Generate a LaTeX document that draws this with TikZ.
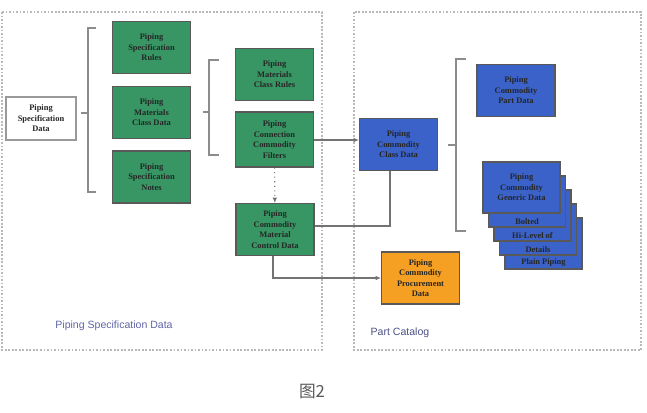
\documentclass[tikz,border=0pt]{standalone}
\usepackage{fontspec}
\setmainfont{Liberation Serif}
\setsansfont{Liberation Sans}
\newfontfamily\cjkfont{Noto Sans CJK SC}
\usetikzlibrary{arrows.meta}

\definecolor{boxgreen}{RGB}{55,150,100}
\definecolor{boxblue}{RGB}{58,98,200}
\definecolor{boxorange}{RGB}{245,160,35}
\definecolor{framegray}{RGB}{185,185,185}
\definecolor{labelblue}{RGB}{95,100,165}

\begin{document}
\begin{tikzpicture}[x=0.02cm, y=-0.02cm,
  box/.style={draw=black!65, line width=0.6pt, minimum width=1.56cm, minimum height=1.04cm,
    inner sep=1pt, align=center, font=\fontsize{4.8}{6}\selectfont\bfseries, text=black!85},
  greenbox/.style={box, fill=boxgreen},
  bluebox/.style={box, fill=boxblue},
  card/.style={bluebox, minimum width=1.54cm, minimum height=1.02cm},
  strip/.style={anchor=south, inner sep=1.5pt, font=\fontsize{4.8}{6}\selectfont\bfseries, text=black!85},
  brace/.style={draw=black!45, line width=0.7pt},
  link/.style={draw=black!55, line width=0.6pt},
  tip/.style={-{Latex[length=3pt,width=2.6pt]}}]
  \useasboundingbox (0,0) rectangle (647,413);

  % the two panels
  \draw[framegray, line width=0.6pt, dash pattern=on 1pt off 1pt] (2,12) rectangle (322,350);
  \draw[framegray, line width=0.6pt, dash pattern=on 1pt off 1pt] (354,12) rectangle (641,350);
  \node[labelblue, font=\sffamily\fontsize{6}{7}\selectfont] (speclbl) at (114,326) {Piping Specification Data};
  \node[labelblue!80!black, font=\sffamily\fontsize{6}{7}\selectfont] (catlbl) at (400,333) {Part Catalog};

  % specification side
  \node[box, draw=black!40, fill=white, minimum width=1.4cm, minimum height=0.86cm] (spec) at (41,118.5) {Piping\\Specification\\Data};
  \node[greenbox] (rules) at (151.5,47.5) {Piping\\Specification\\Rules};
  \node[greenbox] (mcls) at (151.5,112.5) {Piping\\Materials\\Class Data};
  \node[greenbox] (notes) at (151.5,177) {Piping\\Specification\\Notes};
  \node[greenbox] (mrules) at (274.5,74.5) {Piping\\Materials\\Class Rules};
  \node[greenbox, minimum height=1.1cm] (filt) at (274.5,139.5) {Piping\\Connection\\Commodity\\Filters};
  \node[greenbox] (mcd) at (275,229.5) {Piping\\Commodity\\Material\\Control Data};

  % catalog side
  \node[bluebox] (cls) at (398.5,144.5) {Piping\\Commodity\\Class Data};
  \node[bluebox] (part) at (516,90.5) {Piping\\Commodity\\Part Data};
  \node[card, label={[strip]south:Plain Piping}] (plain) at (543.5,243.5) {};
  \node[card, label={[strip]south:Details}] (detl) at (538,229.5) {};
  \node[card, label={[strip]south:Hi-Level of}] (hilev) at (532.5,215.5) {};
  \node[card, label={[strip]south:Bolted}] (bolt) at (527,201.5) {};
  \node[card] (gen) at (521.5,187.5) {Piping\\Commodity\\Generic Data};
  \node[box, fill=boxorange] (proc) at (420.5,278) {Piping\\Commodity\\Procurement\\Data};

  % brackets
  \draw[brace] (96,28) -- (88,28) -- (88,192) -- (96,192) (81,113) -- (88,113);
  \draw[brace] (219,60) -- (209,60) -- (209,155) -- (219,155) (203,112) -- (209,112);
  \draw[brace] (466,59) -- (456,59) -- (456,231) -- (466,231) (448,145) -- (456,145);

  % connectors
  \coordinate (turn) at (390,226);
  \coordinate (down) at (273,278);
  \draw[link, tip, dotted] (filt) -- (mcd);
  \draw[link, tip] (filt.east |- 0,140) -- (cls.west |- 0,140);
  \draw[link] (mcd.east |- turn) -- (turn) -- (turn |- cls.south);
  \draw[link, tip] (mcd.south -| down) -- (down) -- (proc.west |- down);

  \node[text=black!65, font=\cjkfont\fontsize{9.5}{11}\selectfont] (cap) at (312,392) {图2};
\end{tikzpicture}
\end{document}
